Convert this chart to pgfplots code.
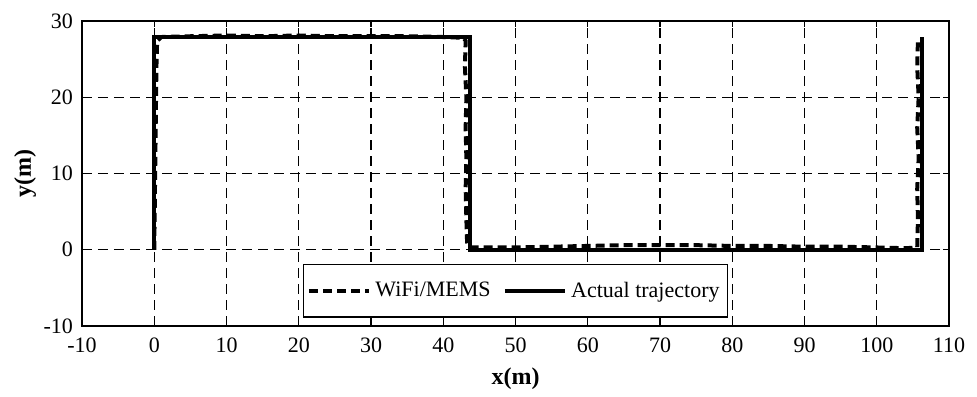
\documentclass[border=0pt]{standalone}
\usepackage{fontspec}
\setmainfont{Liberation Serif}
\usepackage{pgfplots}
\pgfplotsset{compat=1.18}
\begin{document}
\begin{tikzpicture}
\begin{axis}[
  scale only axis,
  width=433.5pt, height=152.5pt,
  xmin=-10, xmax=110, ymin=-10, ymax=30,
  xtick={-10,0,...,110}, ytick={-10,0,10,20,30},
  grid=major,
  major grid style={black, line width=0.7pt, dash pattern=on 5pt off 3pt},
  axis line style={black, line width=1pt},
  tick align=inside, tick pos=both,
  major tick length=3pt,
  tick style={black, line width=0.7pt},
  /pgf/number format/assume math mode=true,
  ticklabel style={font=\fontsize{11}{13}\selectfont},
  xticklabel style={yshift=-2.5pt},
  yticklabel style={xshift=-1pt},
  xlabel={\textbf{x(m)}}, ylabel={\textbf{y(m)}},
  every axis x label/.style={at={(axis description cs:0.5,-0.172)}, anchor=center, font=\fontsize{12}{14}\selectfont},
  every axis y label/.style={at={(axis description cs:-0.0657,0.5)}, anchor=center, rotate=90, font=\fontsize{12}{14}\selectfont},
  legend style={at={(0.5,0.115)}, anchor=center, draw=black, line width=0.7pt,
    legend columns=2, font=\fontsize{11}{13}\selectfont,
    /tikz/every even column/.append style={column sep=4pt},
    inner xsep=2pt, inner ysep=6.5pt},
  legend image code/.code={\draw[#1] (0pt,0pt) -- (30pt,0pt);},
  legend cell align=left,
]
\addplot[black, line width=2pt, dash pattern=on 4.5pt off 2.5pt] coordinates {
(0,0) (0.1,8) (0.2,16) (0.3,24) (0.4,27.4) (1,27.9) (5,28.0) (10,28.1) (15,28.0) (20,28.1) (25,28.0) (30,28.0) (35,28.0) (40,27.9) (42.8,27.8)
(43.1,27.4) (43.0,24) (43.2,20) (43.1,16) (43.2,12) (43.1,8) (43.2,4) (43.3,1) (43.6,0.3)
(50,0.3) (55,0.4) (60,0.5) (65,0.6) (70,0.6) (75,0.6) (80,0.5) (85,0.5) (90,0.4) (95,0.4) (100,0.3) (104,0.2) (105.6,0.3)
(105.7,4) (105.6,8) (105.8,12) (105.6,16) (105.8,20) (105.6,24) (105.7,27.5)
};
\addlegendentry{WiFi/MEMS}
\addplot[black, line width=2.2pt] coordinates {
(0,0) (0,27.9) (43.7,27.9) (43.7,0) (106.3,0) (106.3,27.9)
};
\addlegendentry{Actual trajectory}
\end{axis}
\path ([yshift=10.5pt]current axis.north) ([xshift=14pt]current axis.east)
      ([xshift=-41pt]current axis.west) ([yshift=-31pt]current axis.south);
\end{tikzpicture}
\end{document}
